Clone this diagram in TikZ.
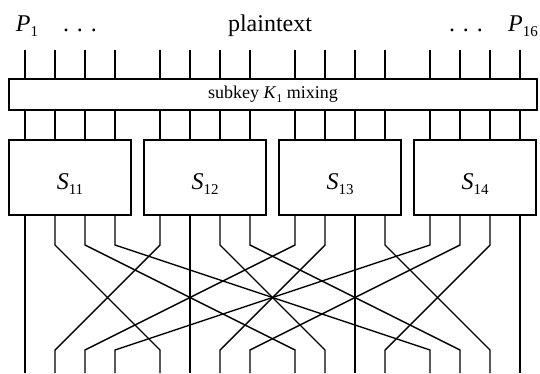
\documentclass[tikz,border=0pt]{standalone}
\usepackage{fontspec}
\usepackage{graphicx}
\setmainfont{Liberation Serif}
% lowered index digits set in text
\newcommand\idx[1]{\raisebox{-0.22em}{\fontsize{15}{15}\selectfont #1}}
\newcommand\smidx[1]{\raisebox{-0.22em}{\fontsize{12}{12}\selectfont #1}}
\newcommand\bigtxt{\fontsize{24}{28}\selectfont}
\newcommand\dotrow{.\kern 8pt.\kern 8pt.}
\begin{document}
\begin{tikzpicture}[x=1pt,y=-1pt,
  wire/.style={line width=1.4pt, line join=miter, line cap=butt},
  boxline/.style={draw, line width=1.4pt, inner sep=0pt},
  sbox/.style={boxline, minimum width=122pt, minimum height=75pt},
  lbl/.style={anchor=base, inner sep=0pt, font=\bigtxt}]
\useasboundingbox (0,0) rectangle (540,373);
\fill[white] (0,0) rectangle (540,373);

% labels above the wires
\node[lbl] (p1) at (27,31) {\textit{P}\idx{1}};
\node[lbl] (d1) at (80,31) {\dotrow};
\node[lbl] (pt) at (270,31) {plaintext};
\node[lbl] (d2) at (466,31) {\dotrow};
\node[lbl] (p16) at (523,31) {\textit{P}\idx{16}};

% subkey mixing stage
\node[boxline, minimum width=528pt, minimum height=31pt] (mix) at (273,94.5)
  {\fontsize{18}{20}\selectfont subkey \textit{K}\smidx{1} mixing};

% S-boxes
\foreach \i/\nm in {0/11,1/12,2/13,3/14}{
  \pgfmathtruncatemacro\j{\i+1}
  \node[sbox] (S\j) at ({70+135*\i},177.5) {};
  \node[lbl] (L\j) at ({70+135*\i},189) {\textit{S}\idx{\nm}};
}

% wire end points
\foreach \i in {0,...,3}{
  \foreach \k in {0,...,3}{
    \pgfmathtruncatemacro\n{4*\i+\k+1}
    \coordinate (t\n) at ({25+135*\i+30*\k},50);
    \coordinate (b\n) at ({25+135*\i+30*\k},373);
  }
}

% input wires through the mixing stage into the S-boxes
\foreach \i in {0,...,3}{
  \foreach \k in {0,...,3}{
    \pgfmathtruncatemacro\n{4*\i+\k+1}
    \pgfmathtruncatemacro\j{\i+1}
    \draw[wire] (t\n) -- (t\n |- mix.north);
    \draw[wire] (t\n |- mix.south) -- (t\n |- S\j.north);
  }
}

% permutation: output k of S-box i feeds input i of S-box k
\foreach \i in {0,...,3}{
  \foreach \k in {0,...,3}{
    \pgfmathtruncatemacro\n{4*\i+\k+1}
    \pgfmathtruncatemacro\m{4*\k+\i+1}
    \pgfmathtruncatemacro\j{\i+1}
    \draw[wire] (t\n |- S\j.south) -- (t\n |- 0,245) -- (b\m |- 0,350) -- (b\m);
  }
}
\end{tikzpicture}
\end{document}
